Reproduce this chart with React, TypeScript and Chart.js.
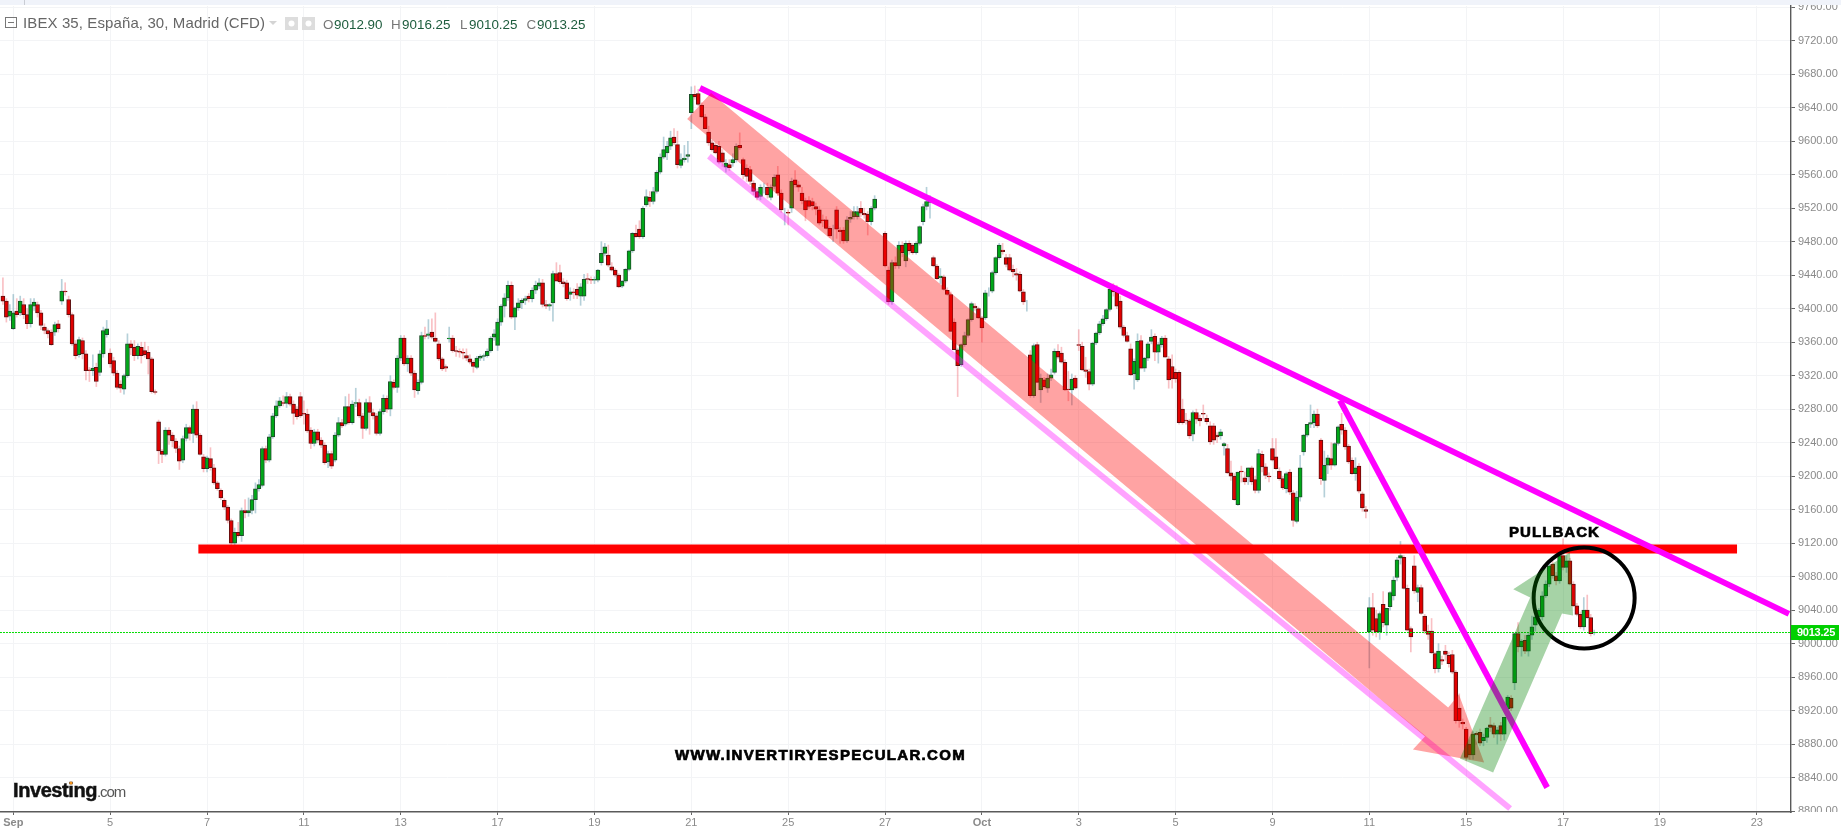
import React, { useEffect, useRef } from "react";
import { Chart, registerables } from "chart.js";

Chart.register(...registerables);

// Candles are [open, high, low, close], one small list for each unbroken run of bars.
const legStarts = [-3, 14, 28, 42, 126, 176, 196, 252, 266, 294, 308, 323, 346, 364, 378, 392];

const legSepA = [
  [9415,9437,9405,9409],[9409,9412,9384,9390],[9391,9405,9386,9397],[9376,9417,9375,9395],[9397,9412,9390,9393],
  [9395,9415,9392,9409],[9405,9412,9388,9393],[9393,9400,9376,9382],[9382,9412,9378,9405],[9403,9412,9398,9408],
  [9405,9408,9390,9395],[9395,9398,9375,9380],[9378,9382,9370,9374],[9374,9376,9365,9370],[9372,9375,9356,9357],
  [9372,9384,9368,9381],[9382,9386,9372,9376],
];
const legSepB = [
  [9409,9435,9405,9421],[9421,9431,9416,9420],[9411,9415,9390,9393],[9393,9395,9356,9358],[9358,9362,9340,9344],
  [9345,9366,9342,9363],[9362,9365,9340,9346],[9346,9350,9315,9326],[9327,9330,9313,9326],[9326,9345,9320,9329],
  [9330,9335,9307,9313],[9324,9350,9320,9346],[9346,9378,9342,9374],[9369,9386,9366,9376],
];
const legSepC = [
  [9347,9352,9330,9334],[9338,9342,9320,9323],[9323,9326,9304,9306],[9310,9314,9300,9305],[9304,9322,9298,9320],
  [9320,9370,9318,9358],[9358,9362,9345,9353],[9354,9362,9338,9344],[9344,9358,9340,9355],[9354,9360,9335,9344],
  [9350,9360,9342,9345],[9348,9355,9322,9340],[9340,9342,9299,9301],[9301,9303,9298,9300],
];
const legSepD = [
  [9265,9267,9215,9230],[9230,9232,9216,9226],[9226,9258,9224,9255],[9255,9258,9238,9249],[9249,9252,9235,9242],
  [9242,9245,9228,9233],[9233,9236,9208,9218],[9219,9248,9216,9245],[9245,9262,9242,9258],[9258,9260,9243,9251],
  [9251,9285,9240,9280],[9280,9289,9246,9249],[9249,9251,9225,9226],[9223,9226,9205,9209],[9209,9224,9205,9222],
  [9221,9234,9207,9210],[9210,9214,9190,9192],[9192,9194,9183,9185],[9183,9185,9172,9174],[9171,9173,9160,9163],
  [9163,9165,9144,9147],[9147,9149,9118,9120],[9120,9138,9116,9133],[9133,9145,9127,9129],[9129,9162,9122,9159],
  [9159,9172,9150,9156],[9156,9174,9152,9159],[9159,9177,9155,9172],[9172,9192,9156,9185],[9185,9196,9182,9190],
  [9189,9235,9187,9233],[9233,9236,9216,9219],[9219,9250,9217,9247],[9247,9275,9245,9272],[9272,9290,9270,9284],
  [9284,9294,9282,9290],[9288,9296,9284,9287],[9287,9300,9282,9295],[9295,9298,9284,9286],[9286,9290,9262,9275],
  [9280,9283,9268,9271],[9295,9300,9270,9272],[9275,9290,9262,9274],[9274,9280,9252,9254],[9255,9258,9233,9239],
  [9239,9256,9236,9253],[9253,9256,9240,9243],[9243,9246,9234,9237],[9237,9240,9214,9216],[9217,9230,9210,9227],
  [9227,9230,9209,9212],[9219,9252,9217,9249],[9249,9270,9247,9264],[9264,9268,9258,9260],[9262,9295,9260,9283],
  [9283,9298,9262,9264],[9264,9290,9262,9286],[9287,9305,9283,9288],[9288,9292,9270,9272],[9272,9275,9245,9257],
  [9257,9292,9255,9288],[9288,9295,9250,9276],[9276,9280,9268,9272],[9272,9275,9249,9251],[9251,9280,9249,9277],
  [9277,9297,9274,9293],[9293,9296,9276,9280],[9280,9320,9272,9313],[9312,9315,9304,9306],[9306,9344,9300,9341],
  [9341,9368,9338,9365],[9365,9368,9332,9334],[9334,9344,9325,9341],[9341,9344,9320,9323],[9323,9326,9294,9303],
  [9302,9315,9298,9312],[9312,9372,9310,9368],[9368,9378,9364,9367],[9368,9387,9364,9370],[9372,9388,9364,9366],
  [9365,9395,9360,9361],[9358,9362,9338,9340],[9340,9342,9326,9328],[9331,9333,9325,9329],
];
const legSepE = [
  [9364,9378,9360,9365],[9365,9368,9348,9350],[9350,9355,9343,9349],[9349,9352,9342,9348],[9348,9352,9340,9347],
  [9344,9352,9338,9341],[9340,9345,9334,9336],[9336,9338,9324,9331],[9330,9343,9328,9341],[9341,9345,9338,9343],
  [9343,9346,9338,9344],[9344,9352,9342,9349],[9350,9367,9348,9365],[9366,9375,9362,9370],[9356,9388,9350,9384],
  [9384,9405,9380,9403],[9403,9418,9390,9413],[9413,9433,9410,9428],[9428,9432,9388,9390],[9390,9402,9375,9401],
  [9401,9412,9398,9407],[9407,9412,9400,9410],[9410,9415,9405,9412],[9415,9418,9408,9412],[9412,9425,9408,9422],
  [9422,9433,9418,9428],[9427,9436,9424,9431],[9431,9435,9402,9405],[9405,9410,9400,9403],[9403,9406,9398,9405],
  [9407,9445,9385,9442],[9442,9455,9436,9433],[9443,9452,9430,9432],[9432,9436,9426,9430],[9431,9434,9410,9412],
  [9417,9425,9410,9420],[9420,9424,9412,9419],[9423,9430,9412,9416],[9415,9430,9404,9426],[9415,9441,9410,9435],
  [9436,9442,9430,9435],[9435,9438,9430,9434],[9434,9438,9430,9435],[9434,9447,9432,9446],[9455,9480,9452,9466],
  [9466,9478,9463,9474],[9464,9476,9450,9452],[9450,9455,9445,9446],[9446,9448,9438,9440],[9440,9442,9425,9426],
];
const legSepF = [
  [9427,9434,9425,9433],[9433,9448,9431,9447],[9447,9470,9445,9469],[9469,9491,9467,9490],[9490,9500,9485,9486],
  [9495,9505,9484,9486],[9486,9522,9484,9520],[9524,9542,9522,9534],[9533,9540,9522,9528],[9528,9545,9525,9540],
  [9540,9565,9538,9563],[9563,9585,9561,9581],[9581,9605,9579,9590],[9586,9600,9578,9594],[9594,9612,9590,9604],
  [9605,9615,9596,9598],[9596,9612,9568,9572],[9571,9585,9568,9578],[9578,9595,9575,9580],[9582,9600,9575,9584],
];
const legSepG = [
  [9634,9665,9615,9656],[9656,9666,9650,9653],[9657,9662,9642,9644],[9643,9646,9628,9629],[9629,9632,9615,9615],
  [9611,9618,9595,9598],[9598,9601,9588,9590],[9595,9598,9585,9586],[9594,9600,9573,9575],[9586,9590,9570,9575],
  [9569,9578,9563,9574],[9572,9578,9565,9568],[9574,9585,9570,9578],[9578,9597,9575,9594],[9595,9610,9590,9592],
  [9578,9580,9555,9560],[9568,9572,9552,9558],[9566,9570,9548,9552],[9550,9553,9536,9540],[9540,9543,9530,9533],
  [9534,9548,9530,9545],[9546,9550,9538,9546],[9545,9550,9532,9536],[9533,9548,9530,9545],[9546,9560,9543,9557],
  [9560,9570,9535,9538],[9538,9542,9515,9518],[9516,9520,9500,9516],[9515,9518,9500,9514],[9520,9556,9515,9552],
  [9554,9565,9545,9548],[9548,9552,9540,9545],[9538,9545,9525,9529],[9529,9532,9505,9518],[9529,9534,9520,9522],
  [9528,9532,9518,9523],[9522,9526,9512,9519],[9518,9522,9500,9502],[9506,9512,9498,9505],[9506,9510,9495,9496],
  [9496,9498,9485,9487],[9495,9500,9480,9495],[9518,9522,9484,9495],[9494,9497,9478,9492],[9494,9497,9478,9481],
  [9481,9510,9479,9506],[9507,9516,9503,9509],[9510,9522,9507,9516],[9510,9522,9507,9516],[9520,9528,9510,9514],
  [9514,9520,9508,9512],[9513,9516,9488,9504],[9504,9522,9500,9520],[9520,9535,9518,9531],
];
const legSepH = [
  [9490,9492,9450,9451],[9446,9450,9405,9408],[9408,9458,9405,9455],[9455,9462,9448,9451],[9451,9480,9448,9476],
  [9476,9480,9462,9467],[9457,9481,9450,9478],[9478,9481,9465,9469],[9476,9478,9465,9467],[9467,9480,9465,9478],
  [9478,9499,9476,9498],[9504,9525,9500,9522],[9522,9545,9518,9528],[9527,9535,9508,9530],
];
const legOctA = [
  [9461,9463,9450,9451],[9451,9453,9435,9436],[9437,9448,9430,9439],[9438,9440,9422,9423],[9422,9425,9416,9417],
  [9417,9420,9373,9373],[9384,9388,9351,9351],[9351,9353,9295,9332],[9333,9358,9331,9357],[9357,9372,9355,9368],
  [9368,9388,9366,9387],[9387,9408,9385,9406],[9403,9406,9398,9401],[9400,9402,9388,9389],[9389,9391,9360,9377],
  [9389,9422,9387,9419],[9421,9425,9415,9421],[9421,9445,9419,9443],[9443,9462,9441,9461],[9461,9478,9459,9476],
  [9470,9478,9465,9468],[9461,9465,9450,9453],[9461,9465,9445,9446],[9447,9452,9438,9444],[9442,9448,9434,9440],
  [9441,9444,9420,9421],[9420,9423,9405,9408],[9408,9410,9397,9408],
];
const legOctB = [
  [9345,9350,9294,9296],[9296,9358,9294,9356],[9357,9360,9312,9312],[9303,9322,9288,9317],[9315,9318,9305,9307],
  [9305,9322,9300,9317],[9317,9328,9314,9321],[9324,9352,9322,9349],[9349,9357,9340,9342],[9347,9354,9335,9336],
  [9336,9339,9302,9303],[9304,9325,9290,9303],[9303,9322,9285,9316],[9317,9320,9304,9305],
];
const legOctC = [
  [9357,9375,9350,9356],[9355,9360,9326,9327],[9327,9342,9318,9325],[9325,9328,9303,9310],[9310,9360,9308,9359],
  [9359,9372,9357,9371],[9371,9385,9369,9382],[9382,9392,9380,9388],[9388,9400,9386,9399],[9399,9425,9397,9423],
  [9423,9430,9415,9420],[9420,9428,9400,9403],[9409,9415,9376,9378],[9378,9380,9366,9368],[9368,9372,9360,9361],
];
const legOctD = [
  [9352,9358,9320,9321],[9322,9340,9304,9337],[9315,9370,9313,9361],[9362,9368,9328,9329],[9329,9342,9325,9341],
  [9341,9360,9338,9358],[9361,9375,9358,9366],[9367,9370,9338,9348],[9348,9360,9335,9357],[9357,9367,9354,9365],
  [9365,9368,9342,9342],[9340,9343,9305,9315],[9331,9345,9305,9316],[9324,9328,9312,9316],[9324,9326,9262,9264],
  [9280,9292,9262,9264],[9267,9275,9262,9266],[9266,9268,9245,9248],[9250,9278,9242,9276],[9276,9280,9263,9268],
  [9269,9273,9260,9266],[9275,9285,9268,9274],[9269,9273,9262,9265],
];
const legOctE = [
  [9260,9265,9238,9241],[9260,9263,9238,9243],[9249,9252,9240,9247],[9248,9256,9244,9253],[9236,9240,9225,9239],
  [9233,9238,9203,9204],[9204,9218,9195,9200],[9200,9203,9171,9172],[9166,9205,9165,9205],[9206,9212,9193,9205],
  [9198,9205,9190,9193],[9199,9210,9190,9210],[9210,9212,9190,9193],[9196,9200,9180,9183],[9183,9232,9180,9227],
  [9226,9230,9205,9211],[9211,9215,9197,9201],[9200,9204,9193,9199],
];
const legOctF = [
  [9233,9245,9218,9219],[9223,9245,9208,9209],[9206,9210,9195,9197],[9197,9200,9184,9186],[9185,9205,9180,9203],
  [9205,9208,9178,9181],[9180,9183,9140,9147],[9146,9182,9144,9175],[9175,9225,9170,9210],[9229,9250,9225,9249],
  [9249,9262,9247,9262],[9262,9285,9258,9264],[9264,9278,9258,9274],[9274,9280,9258,9260],
];
const legOctG = [
  [9243,9245,9190,9197],[9195,9230,9175,9213],[9213,9225,9203,9222],[9221,9240,9208,9213],[9213,9240,9212,9239],
  [9239,9260,9237,9259],[9262,9275,9250,9255],[9255,9258,9232,9235],[9236,9238,9215,9217],[9219,9222,9202,9203],
  [9203,9222,9195,9210],[9212,9215,9180,9182],[9179,9181,9158,9162],[9160,9164,9150,9158],
];
const legOctH = [
  [9014,9055,8971,9043],[9043,9060,9010,9016],[9030,9040,9008,9014],[9014,9038,9005,9036],[9047,9062,9020,9025],
  [9022,9042,9010,9042],[9044,9062,9040,9061],[9057,9080,9052,9076],[9079,9103,9075,9100],[9102,9122,9095,9105],
  [9103,9105,9065,9066],[9066,9070,9015,9016],[9018,9020,8990,9008],[9093,9105,9060,9063],[9061,9070,9050,9067],
  [9067,9070,9035,9036],[9033,9035,9012,9015],[9015,9022,9005,9011],[9015,9030,8988,8989],[8988,8990,8965,8970],
  [8970,9000,8966,8991],[8981,8985,8975,8979],[8991,8998,8980,8987],[8986,8990,8972,8976],[8987,8992,8964,8966],[8966,8968,8905,8908],
  [8923,8940,8900,8908],[8906,8910,8898,8904],[8898,8900,8860,8864],[8880,8885,8862,8867],[8867,8895,8862,8892],
  [8893,8895,8880,8891],[8894,8898,8878,8881],[8884,8892,8878,8888],[8888,8900,8882,8899],[8903,8912,8895,8900],[8902,8905,8888,8892],
  [8892,8900,8880,8897],[8902,8906,8884,8892],[8892,8912,8885,8912],[8922,8938,8918,8936],[8935,8938,8920,8923],[8953,9012,8945,9012],
  [9012,9025,8990,8996],[8996,9005,8985,9003],[9004,9010,8988,8991],[8991,9012,8985,9010],
  [9010,9033,9005,9020],[9022,9035,9015,9032],[9032,9042,9028,9040],[9032,9062,9028,9057],
  [9057,9075,9055,9071],[9071,9095,9068,9093],[9095,9098,9078,9081],[9081,9085,9070,9075],
  [9075,9108,9072,9105],[9105,9125,9088,9091],[9091,9105,9085,9099],[9099,9102,9070,9071],[9071,9074,9044,9045],
  [9045,9048,9033,9035],[9035,9038,9018,9020],[9020,9055,9016,9040],[9040,9058,9030,9031],[9031,9035,9009,9012],
  [9012.9,9016.25,9010.25,9013.25],
];
const legs = [legSepA,legSepB,legSepC,legSepD,legSepE,legSepF,legSepG,legSepH,legOctA,legOctB,legOctC,legOctD,legOctE,legOctF,legOctG,legOctH];

const xTickLabels = ["Sep","5","7","11","13","17","19","21","25","27","Oct","3","5","9","11","15","17","19","23"];
const barsPerTick = 28;
const yTickValues = [8800,8840,8880,8920,8960,9000,9040,9080,9120,9160,9200,9240,9280,9320,9360,9400,9440,9480,9520,9560,9600,9640,9680,9720,9760];

// Hand-drawn marks on the picture, in bar-index / price coordinates.
const mainTrend = [{x:198.5,y:9663.5},{x:513.3,y:9035.5}];
const steepTrend = [{x:383.5,y:9290.6},{x:443.4,y:8828.2}];
const paleTrend = [{x:201.1,y:9582.2},{x:432.7,y:8803.1}];
const supportLine = [{x:53.5,y:9113},{x:498.3,y:9113}];
const lastPrice = 9013.25;
const pullbackCircle = [{x:454.1,y:9054.6}];
const redArrow = [[194.8,9626.5],[201.7,9657.5],[414.8,8923.8],[417.9,8939.3],[425.2,8858],[404.6,8873.6],[408.1,8889.1]];
const greenArrow = [[418.2,8862.9],[427.8,8846.2],[447.7,9036],[450.9,9033.7],[450,9109],[433.6,9064.8],[438.5,9055.2]];
const quote = { O: "9012.90", H: "9016.25", L: "9010.25", C: "9013.25" };

const SANS = '"Liberation Sans", Arial, sans-serif';

function fitText(ctx: CanvasRenderingContext2D, text: string, x: number, y: number, width: number, heavy = 0) {
  (ctx as any).letterSpacing = "0px";
  const natural = ctx.measureText(text).width;
  (ctx as any).letterSpacing = `${(width - natural) / text.length}px`;
  ctx.fillText(text, x, y);
  if (heavy) {
    ctx.lineWidth = heavy;
    ctx.strokeStyle = ctx.fillStyle;
    ctx.strokeText(text, x, y);
  }
  (ctx as any).letterSpacing = "0px";
}

const decorations = {
  id: "decorations",
  afterDatasetsDraw(chart: any) {
    const { ctx, scales } = chart;
    const polygon = (pts: number[][], color: string) => {
      ctx.save();
      ctx.beginPath();
      pts.forEach(([i, p], k) => {
        const px = scales.x.getPixelForValue(i);
        const py = scales.y.getPixelForValue(p);
        if (k) ctx.lineTo(px, py); else ctx.moveTo(px, py);
      });
      ctx.closePath();
      ctx.fillStyle = color;
      ctx.fill();
      ctx.restore();
    };
    polygon(redArrow, "rgba(255,0,0,0.36)");
    polygon(greenArrow, "rgba(0,128,0,0.35)");
  },
  afterDraw(chart: any) {
    const { ctx, scales } = chart;
    ctx.save();
    // panels around the plot
    ctx.fillStyle = "#ffffff";
    ctx.fillRect(1792, 812, 49, 17);
    ctx.fillStyle = "#f0f3fa";
    ctx.fillRect(0, 0, 1841, 5);
    ctx.fillStyle = "#c9ccd4";
    ctx.fillRect(24, 0, 1, 5);

    // header
    ctx.textBaseline = "alphabetic";
    ctx.strokeStyle = "#777";
    ctx.lineWidth = 1;
    ctx.strokeRect(5.5, 17.5, 11, 10);
    ctx.beginPath(); ctx.moveTo(8, 22.5); ctx.lineTo(14, 22.5); ctx.stroke();
    ctx.fillStyle = "#666";
    ctx.font = `15px ${SANS}`;
    fitText(ctx, "IBEX 35, España, 30, Madrid (CFD)", 23, 28, 242);
    ctx.fillStyle = "#d4d4d4";
    ctx.beginPath(); ctx.moveTo(269, 21); ctx.lineTo(277, 21); ctx.lineTo(273, 25); ctx.closePath(); ctx.fill();
    ctx.fillStyle = "#dddddd";
    ctx.fillRect(285, 17, 13, 13);
    ctx.fillRect(302, 17, 13, 13);
    ctx.fillStyle = "#ffffff";
    ctx.beginPath(); ctx.arc(291.5, 23.5, 3, 0, Math.PI * 2); ctx.fill();
    ctx.beginPath(); ctx.arc(308.5, 23.5, 3, 0, Math.PI * 2); ctx.fill();
    const quoteCells: [string, string, number, number][] = [
      ["O", quote.O, 323, 334], ["H", quote.H, 391, 402], ["L", quote.L, 460, 469], ["C", quote.C, 526.5, 537],
    ];
    ctx.font = `13.4px ${SANS}`;
    quoteCells.forEach(([k, v, kx, vx]) => {
      ctx.fillStyle = "#777";
      ctx.fillText(k, kx, 29);
      ctx.fillStyle = "#1d5c3d";
      fitText(ctx, v, vx, 29, 48.5);
    });

    // notes on the chart
    ctx.fillStyle = "#000";
    ctx.font = `bold 15px ${SANS}`;
    fitText(ctx, "PULLBACK", 1509, 537, 91, 0.7);
    fitText(ctx, "WWW.INVERTIRYESPECULAR.COM", 675, 760, 291, 0.7);

    // logo
    ctx.fillStyle = "#111";
    ctx.font = `bold 20px ${SANS}`;
    fitText(ctx, "Investing", 13, 797, 84, 0.5);
    ctx.fillStyle = "#555";
    ctx.font = `15px ${SANS}`;
    fitText(ctx, ".com", 97, 797, 28);
    ctx.fillStyle = "#f7941d";
    ctx.beginPath(); ctx.arc(71, 783, 1.6, 0, Math.PI * 2); ctx.fill();

    // last price tag
    const y = scales.y.getPixelForValue(lastPrice);
    ctx.fillStyle = "#00d000";
    ctx.fillRect(1791, y - 7.5, 48, 15);
    ctx.fillStyle = "#fff";
    ctx.font = `bold 11px ${SANS}`;
    ctx.textBaseline = "middle";
    fitText(ctx, lastPrice.toFixed(2), 1797, y + 0.5, 38);
    ctx.restore();
  },
};

export default function App() {
  const ref = useRef<HTMLCanvasElement>(null);
  useEffect(() => {
    document.body.style.margin = "0";
    const candles: { i: number; o: number; h: number; l: number; c: number }[] = [];
    legs.forEach((leg, k) => leg.forEach((b, j) => candles.push({ i: legStarts[k] + j, o: b[0], h: b[1], l: b[2], c: b[3] })));
    const up = (b: any) => b.c >= b.o;
    const line = (data: any[], color: string, width: number, order: number, extra: any = {}) => ({
      type: "line", data, borderColor: color, borderWidth: width, pointRadius: 0, fill: false, tension: 0,
      borderCapStyle: "butt", order, clip: false, ...extra,
    });
    const chart = new Chart(ref.current as HTMLCanvasElement, {
      type: "bar",
      data: {
        datasets: [
          line(pullbackCircle, "#000", 0, 1, {
            showLine: false, pointRadius: 50.5, pointStyle: "circle", pointBorderColor: "#000",
            pointBorderWidth: 4, pointBackgroundColor: "rgba(0,0,0,0)",
          }),
          line(mainTrend, "#ff00ff", 6, 2),
          line(steepTrend, "#ff00ff", 6, 3),
          line(supportLine, "#ff0000", 9, 5),
          line(paleTrend, "rgba(255,0,255,0.36)", 6, 6),
          line([{ x: -3.85, y: lastPrice }, { x: 513.9, y: lastPrice }], "#00dd00", 1, 7, { borderDash: [2, 1] }),
          {
            type: "bar", grouped: false, order: 8, barThickness: 4, borderWidth: 1, borderSkipped: false,
            data: candles.map((b) => ({ x: b.i, y: [Math.min(b.o, b.c), Math.max(b.o, b.c)] })),
            backgroundColor: candles.map((b) => (up(b) ? "#00a818" : "#e00000")),
            borderColor: candles.map((b) => (up(b) ? "#1d4d2a" : "#5e0f0f")),
          },
          {
            type: "bar", grouped: false, order: 9, barThickness: 1, borderWidth: 0,
            data: candles.map((b) => ({ x: b.i, y: [b.l, b.h] })),
            backgroundColor: candles.map((b) => (up(b) ? "rgba(90,150,170,0.45)" : "rgba(240,90,100,0.38)")),
          },
        ] as any,
      },
      options: {
        animation: false,
        responsive: false,
        devicePixelRatio: 1,
        layout: { autoPadding: false, padding: { top: 6, left: 0, right: 0, bottom: 0 } },
        plugins: { legend: { display: false }, tooltip: { enabled: false }, title: { display: false } },
        scales: {
          x: {
            type: "linear",
            offset: false,
            min: -3.845,
            max: 513.9,
            afterBuildTicks: (s: any) => { s.ticks = xTickLabels.map((_, k) => ({ value: k * barsPerTick })); },
            afterFit: (s: any) => { s.height = 17; s.paddingLeft = 0; s.paddingRight = 0; },
            grid: { offset: false, color: "#f3f4f6", lineWidth: 1, tickLength: 3, tickColor: "#666" },
            border: { color: "#5a5a5a", width: 1.4 },
            ticks: {
              autoSkip: false, maxRotation: 0, minRotation: 0, padding: 1, color: "#8a8a8a",
              font: (c: any) => ({ family: SANS, size: 11, weight: xTickLabels[c.index] === "Sep" || xTickLabels[c.index] === "Oct" ? "bold" : "normal" }),
              callback: (_: any, idx: number) => xTickLabels[idx],
            },
          },
          y: {
            type: "linear",
            position: "right",
            min: 8798.9,
            max: 9761.5,
            afterBuildTicks: (s: any) => { s.ticks = yTickValues.map((value) => ({ value })); },
            afterFit: (s: any) => { s.width = 50; s.paddingTop = 0; s.paddingBottom = 0; },
            grid: { color: "#f3f4f6", lineWidth: 1, tickLength: 4, tickColor: "#666" },
            border: { color: "#5a5a5a", width: 1.4 },
            ticks: {
              padding: 3, color: "#8a8a8a", font: { family: SANS, size: 11 }, autoSkip: false,
              callback: (v: any) => Number(v).toFixed(2),
            },
          },
        },
      } as any,
      plugins: [decorations as any],
    });
    return () => chart.destroy();
  }, []);
  return (
    <div>
      <canvas ref={ref} width={1841} height={829} style={{ display: "block", width: 1841, height: 829 }} />
    </div>
  );
}
